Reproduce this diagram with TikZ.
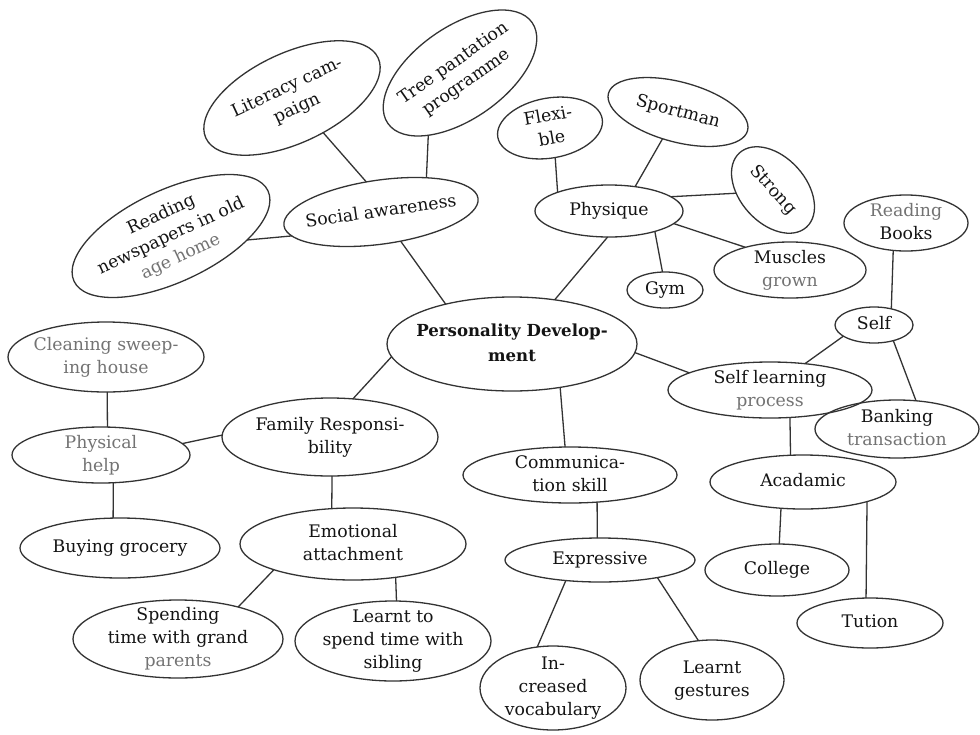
\documentclass[tikz,border=0pt]{standalone}
\usepackage{fontspec}
\setmainfont{DejaVu Serif}
\usetikzlibrary{shapes.geometric}
\newcommand{\tx}[1]{\raisebox{-0.5ex}[0pt][0pt]{\makebox[0pt]{\begin{tabular}{@{}c@{}}#1\end{tabular}}}}
\newcommand{\fd}[1]{\textcolor{black!55}{#1}}
\tikzset{
  bub/.style={ellipse, draw=black!80, line width=1.3pt, inner sep=0pt, outer sep=0pt,
    text=black!92, font=\fontsize{17.3}{23}\selectfont},
  link/.style={draw=black!80, line width=1.3pt},
}
\begin{document}
\begin{tikzpicture}[x=1pt,y=-1pt]
\fill[white] (0,0) rectangle (980,734);
\useasboundingbox (0,0) rectangle (980,734);

% central
\node[bub, minimum width=250pt, minimum height=94pt, font=\fontsize{16.6}{25}\selectfont\bfseries] (pd) at (512,344) {\tx{Personality Develop-\\ment}};

% social awareness branch
\node[bub, minimum width=196pt, minimum height=64pt, rotate=8] (soc) at (381,212) {\tx{Social awareness}};
\node[bub, minimum width=190pt, minimum height=90pt, rotate=25] (lit) at (292,98) {\tx{Literacy cam-\\paign}};
\node[bub, minimum width=176pt, minimum height=92pt, rotate=35] (tree) at (460,73) {\tx{Tree pantation\\programme}};
\node[bub, minimum width=214pt, minimum height=92pt, rotate=25] (news) at (171,236) {\tx{Reading\\newspapers in old\\\fd{age home}}};

% physique branch
\node[bub, minimum width=148pt, minimum height=52pt] (phy) at (609,211) {\tx{Physique}};
\node[bub, minimum width=106pt, minimum height=60pt, rotate=10] (flex) at (550,128) {\tx{Flexi-\\ble}};
\node[bub, minimum width=144pt, minimum height=60pt, rotate=-15] (sport) at (678,112) {\tx{Sportman}};
\node[bub, minimum width=100pt, minimum height=66pt, rotate=-48] (strong) at (773,190) {\tx{Strong}};
\node[bub, minimum width=76pt, minimum height=36pt] (gym) at (665,290) {\tx{Gym}};
\node[bub, minimum width=152pt, minimum height=56pt] (musc) at (790,270) {\tx{Muscles\\\fd{grown}}};

% self learning branch
\node[bub, minimum width=124pt, minimum height=56pt] (books) at (906,223) {\tx{\fd{Reading}\\Books}};
\node[bub, minimum width=78pt, minimum height=36pt] (self) at (874,325) {\tx{Self}};
\node[bub, minimum width=204pt, minimum height=56pt] (slp) at (770,390) {\tx{Self learning\\\fd{process}}};
\node[bub, minimum width=164pt, minimum height=58pt] (bank) at (897,429) {\tx{Banking\\\fd{transaction}}};
\node[bub, minimum width=186pt, minimum height=54pt] (acad) at (803,482) {\tx{Acadamic}};
\node[bub, minimum width=144pt, minimum height=52pt] (col) at (777,570) {\tx{College}};
\node[bub, minimum width=146pt, minimum height=50pt] (tut) at (870,623) {\tx{Tution}};

% communication branch
\node[bub, minimum width=214pt, minimum height=56pt] (comm) at (570,475) {\tx{Communica-\\tion skill}};
\node[bub, minimum width=190pt, minimum height=44pt] (expr) at (600,560) {\tx{Expressive}};
\node[bub, minimum width=146pt, minimum height=84pt] (incr) at (553,688) {\tx{In-\\creased\\vocabulary}};
\node[bub, minimum width=144pt, minimum height=80pt] (gest) at (712,680) {\tx{Learnt\\gestures}};

% family branch
\node[bub, minimum width=216pt, minimum height=78pt] (fam) at (330,437) {\tx{Family Responsi-\\bility}};
\node[bub, minimum width=178pt, minimum height=56pt] (phys) at (101,455) {\tx{\fd{Physical}\\\fd{help}}};
\node[bub, minimum width=196pt, minimum height=70pt] (clean) at (106,357) {\tx{\fd{Cleaning sweep-}\\\fd{ing house}}};
\node[bub, minimum width=200pt, minimum height=60pt] (buy) at (120,548) {\tx{Buying grocery}};
\node[bub, minimum width=226pt, minimum height=72pt] (emo) at (353,544) {\tx{Emotional\\attachment}};
\node[bub, minimum width=210pt, minimum height=78pt] (spend) at (178,639) {\tx{Spending\\time with grand\\\fd{parents}}};
\node[bub, minimum width=196pt, minimum height=80pt] (sib) at (393,641) {\tx{Learnt to\\spend time with\\sibling}};

% connectors
\draw[link] (lit.-73) -- (soc.108);
\draw[link] (tree.-152) -- (soc.29);
\draw[link] (news.-28) -- (soc.187);
\draw[link] (soc.-64) -- (pd.149);
\draw[link] (flex.-90) -- (phy.160.6);
\draw[link] (sport.-105) -- (phy.43.9);
\draw[link] (strong.-127) -- (phy.13.2);
\draw[link] (gym.98.5) -- (phy.-24.4);
\draw[link] (musc.153) -- (phy.-11.6);
\draw[link] (phy.-93.7) -- (pd.46.7);
\draw[link] (books.-115.8) -- (self.43.4);
\draw[link] (self.200.6) -- (slp.37.9);
\draw[link] (self.-39) -- (bank.56.8);
\draw[link] (pd.-4.2) -- (slp.168.4);
\draw[link] (slp.-54.5) -- (acad.115.7);
\draw[link] (acad.-130.6) -- (col.85.4);
\draw[link] (acad.-17.6) -- (tut.99);
\draw[link] (pd.-42.2) -- (comm.100);
\draw[link] (comm.-45) -- (expr.97.4);
\draw[link] (expr.-149) -- (incr.111.8);
\draw[link] (expr.-17.2) -- (gest.109.7);
\draw[link] (pd.186.1) -- (fam.59.5);
\draw[link] (fam.179.5) -- (phys.8);
\draw[link] (clean.-88.4) -- (phys.77.5);
\draw[link] (phys.-66.8) -- (buy.103);
\draw[link] (fam.-87) -- (emo.121);
\draw[link] (emo.198) -- (spend.28);
\draw[link] (emo.-38.2) -- (sib.85.5);
\end{tikzpicture}
\end{document}
